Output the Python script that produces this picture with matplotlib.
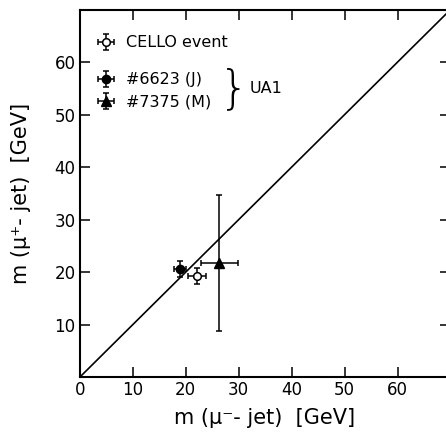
import matplotlib.pyplot as plt
from matplotlib.ticker import FixedLocator

# event values
cello_x, cello_y = [22.1], [19.3]
cello_xerr, cello_yerr = [1.7], [1.5]

j_x, j_y = [18.9], [20.6]
j_xerr, j_yerr = [1.2], [1.5]

m_x, m_y = [26.3], [21.7]
m_xerr, m_yerr = [3.5], [13.0]

xticks = [0, 10, 20, 30, 40, 50, 60]
yticks = [10, 20, 30, 40, 50, 60]

plt.rcParams['font.family'] = ['DejaVu Sans']

fig = plt.figure(figsize=(4.46, 4.38), dpi=100)
ax = fig.add_axes([0.179, 0.139, 0.83, 0.838])

ekw = dict(color='black', capsize=2.5, elinewidth=1.1, capthick=1.1, linestyle='none')
h1 = ax.errorbar(cello_x, cello_y, xerr=cello_xerr, yerr=cello_yerr, marker='o', ms=5.5,
                 mfc='white', mec='black', mew=1.1, **ekw)
h2 = ax.errorbar(j_x, j_y, xerr=j_xerr, yerr=j_yerr, marker='o', ms=6, mfc='black', mec='black', **ekw)
h3 = ax.errorbar(m_x, m_y, xerr=m_xerr, yerr=m_yerr, marker='^', ms=7, mfc='black', mec='black', **ekw)

# m(mu+) = m(mu-) line
ax.axline((0, 0), slope=1, color='black', lw=1.2)

ax.set_xlim(0, 69.9)
ax.set_ylim(0, 69.9)
ax.xaxis.set_major_locator(FixedLocator(xticks))
ax.yaxis.set_major_locator(FixedLocator(yticks))
ax.tick_params(direction='in', length=7, width=1.1, top=True, right=True, labelsize=12, pad=3)
for s in ax.spines.values():
    s.set_linewidth(1.5)

ax.set_xlabel('m (μ⁻- jet)  [GeV]', fontsize=15, labelpad=6)
ax.set_ylabel('m (μ⁺- jet)  [GeV]', fontsize=15, labelpad=17)

leg1 = ax.legend([h1], ['CELLO event'], loc='upper left', bbox_to_anchor=(0.0, 0.97),
                 frameon=False, fontsize=11.5, handlelength=1.5, handletextpad=0.5)
ax.add_artist(leg1)
ax.legend([h2, h3], ['#6623 (J)', '#7375 (M)'], loc='upper left', bbox_to_anchor=(0.0, 0.87),
          frameon=False, fontsize=11.5, handlelength=1.5, handletextpad=0.5, labelspacing=0.45)

ax.text(0.375, 0.785, '}', transform=ax.transAxes, fontsize=34, va='center', ha='left',
        fontweight='light')
ax.text(0.46, 0.785, 'UA1', transform=ax.transAxes, fontsize=11.5, va='center', ha='left')

fig.savefig('out.png', dpi=100)
